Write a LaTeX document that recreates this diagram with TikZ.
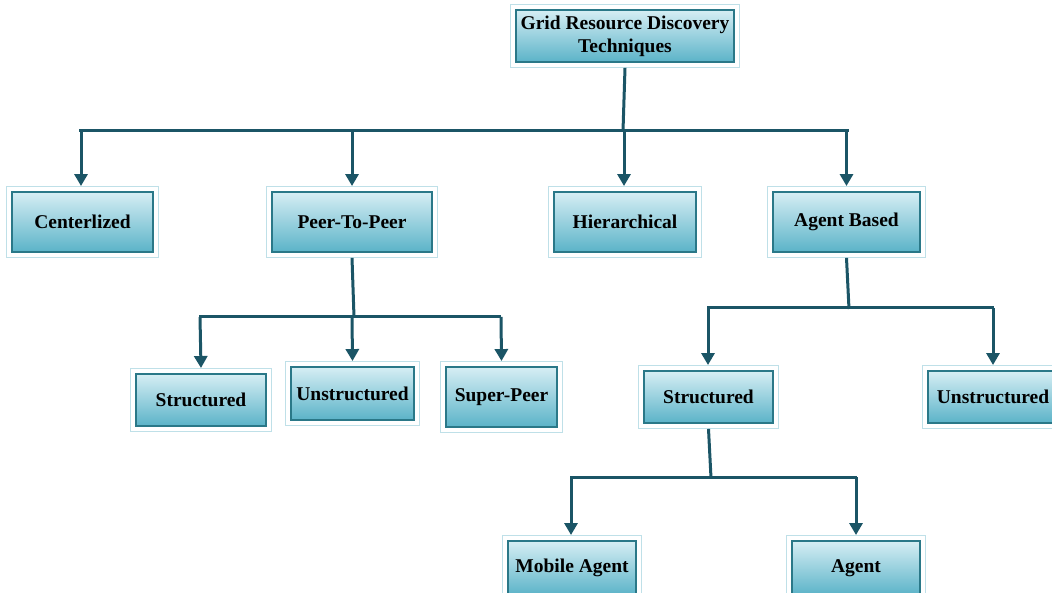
\documentclass[tikz,border=0pt]{standalone}
\usepackage{fontspec}
\setmainfont{Liberation Serif}
\usetikzlibrary{arrows.meta}
\definecolor{boxtop}{HTML}{D6EEF4}
\definecolor{boxbot}{HTML}{5BB3C8}
\definecolor{boxline}{HTML}{2A7888}
\definecolor{frameline}{HTML}{BFE0E8}
\definecolor{conn}{HTML}{1B5566}
\tikzset{
  frame/.style={draw=frameline, line width=0.9pt, fill=white, inner sep=0pt},
  box/.style={draw=boxline, line width=1.3pt, top color=boxtop, bottom color=boxbot,
    inner sep=0pt, align=center, font=\fontsize{19.5}{23}\selectfont\bfseries},
  line/.style={draw=conn, line width=3pt},
  arr/.style={draw=conn, line width=3pt, -{Triangle[width=13pt,length=12pt]}}
}
\newcommand\mybox[6]{%
  \node[frame, minimum width=#3+11, minimum height=#4+11] (#1-f) at #2 {};
  \node[box, minimum width=#3, minimum height=#4] (#1) at #2 {#5};
}
\begin{document}
\begin{tikzpicture}[x=1pt,y=-1pt]
\useasboundingbox (0,0) rectangle (1052,593);
\mybox{root}{(625,36)}{218}{52}{Grid Resource Discovery\\Techniques}{}
\mybox{cen}{(82.5,222)}{141}{60}{Centerlized}{}
\mybox{p2p}{(352,222)}{160}{60}{Peer-To-Peer}{}
\mybox{hier}{(625,222)}{142}{60}{Hierarchical}{}
\mybox{agb}{(846.5,222)}{147}{60}{Agent Based}{}
\mybox{strl}{(201,400)}{130}{52}{Structured}{}
\mybox{unsm}{(352.5,393.5)}{123}{53}{Unstructured}{}
\mybox{sup}{(501.5,397)}{111}{60}{Super-Peer}{}
\mybox{strr}{(708.5,397)}{129}{52}{Structured}{}
\mybox{unsr}{(993,397)}{130}{52}{Unstructured}{}
\mybox{mob}{(572,568)}{128}{54}{Mobile Agent}{}
\mybox{agt}{(856,568)}{128}{54}{Agent}{}
% level 1
\coordinate (j1) at (623,131);
\coordinate (b1l) at (79,131);
\coordinate (b1r) at (849,131);
\draw[line] (root-f.south) -- (j1);
\draw[line] (b1l) -- (b1r);
\draw[arr] (81,131) -- (cen-f.north -| 81,0);
\draw[arr] (p2p-f.north |- b1l) -- (p2p-f.north);
\draw[arr] (624,131) -- (hier-f.north -| 624,0);
\draw[arr] (agb-f.north |- b1l) -- (agb-f.north);
% p2p children
\coordinate (j2) at (354,317);
\coordinate (b2l) at (199,317);
\coordinate (b2r) at (501,317);
\draw[line] (p2p-f.south) -- (j2);
\draw[line] (b2l) -- (b2r);
\draw[arr] (200,317) -- (strl-f.north);
\draw[arr] (352,317) -- (unsm-f.north);
\draw[arr] (501,317) -- (sup-f.north);
% agent based children
\coordinate (j3) at (849,309);
\coordinate (b3l) at (707,308);
\coordinate (b3r) at (994,308);
\draw[line] (agb-f.south) -- (j3);
\draw[line] (b3l) -- (b3r);
\draw[arr] (708,308) -- (strr-f.north -| 708,0);
\draw[arr] (993,308) -- (unsr-f.north -| 993,0);
% structured children
\coordinate (j4) at (711,478);
\coordinate (b4l) at (570,477);
\coordinate (b4r) at (857,477);
\draw[line] (strr-f.south) -- (j4);
\draw[line] (b4l) -- (b4r);
\draw[arr] (571,477) -- (mob-f.north -| 571,0);
\draw[arr] (856,477) -- (agt-f.north);
\end{tikzpicture}
\end{document}
